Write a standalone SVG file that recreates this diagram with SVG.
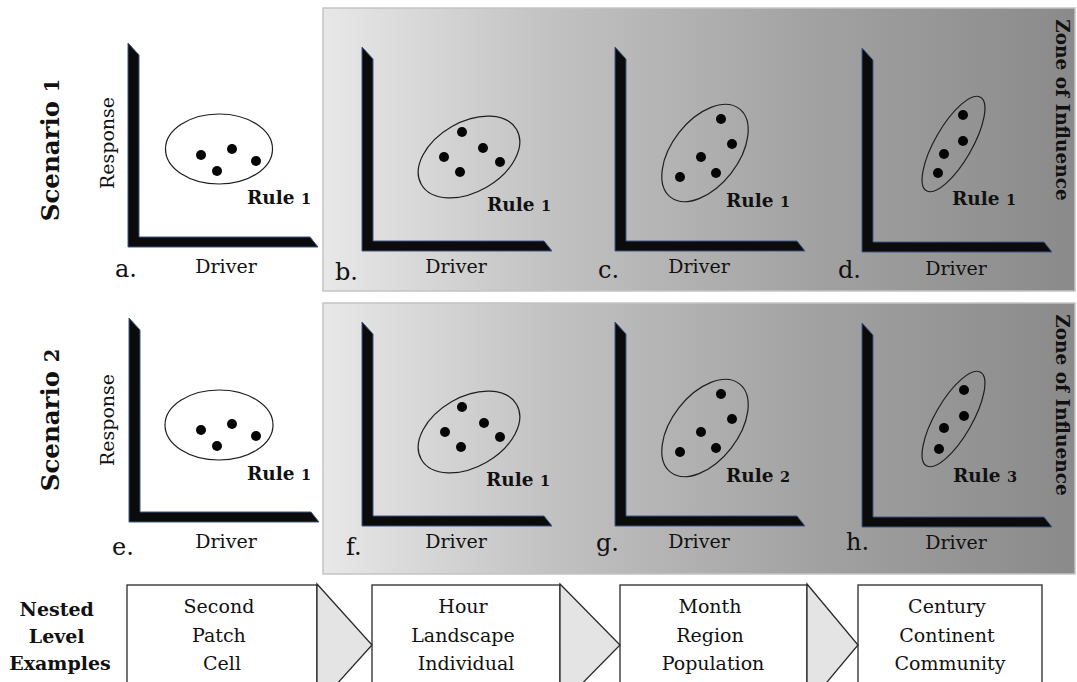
<svg xmlns="http://www.w3.org/2000/svg" xmlns:xlink="http://www.w3.org/1999/xlink" width="1077" height="682" viewBox="0 0 1077 682">
  <style>
    .serif { font-family: "DejaVu Serif", "Liberation Serif", serif; fill: #111; }
    .axis-label { font-size: 19px; }
    .panel-letter { font-size: 24px; }
    .rule { font-size: 18.5px; font-weight: bold; }
    .rule-num { font-size: 14.5px; }
    .scenario { font-size: 24.5px; font-weight: bold; }
    .zone { font-size: 18.5px; font-weight: bold; }
    .level { font-size: 19px; }
    .level-head { font-size: 19px; font-weight: bold; }
    .cloud { fill: none; stroke: #1e1e1e; stroke-width: 1.2; }
    .dot { fill: #050505; }
    .panel { stroke: #c4c4c4; stroke-width: 1.5; }
    .box { fill: #ffffff; stroke: #2a2a2a; stroke-width: 1.3; }
    .chevron { fill: #e4e4e4; stroke: #2a2a2a; stroke-width: 1.3; }
  </style>
  <defs>
    <linearGradient id="zoneShade" x1="0" y1="0" x2="1" y2="0">
      <stop offset="0" stop-color="#e8e8e8"/>
      <stop offset="0.3" stop-color="#c2c2c2"/>
      <stop offset="0.65" stop-color="#a2a2a2"/>
      <stop offset="1" stop-color="#8a8a8a"/>
    </linearGradient>
    <!-- L-shaped bevelled axes, origin at top-left of the vertical bar -->
    <polygon id="axes" points="0,0 11,12 11,194 182,194 190,204 0,204" fill="#0b0b0b" stroke="#3d5687" stroke-width="1"/>
  </defs>

  <rect width="1077" height="682" fill="#ffffff"/>

  <!-- shaded zone-of-influence backgrounds -->
  <rect id="zone-row1" class="panel" x="323" y="8" width="752" height="283" fill="url(#zoneShade)"/>
  <rect id="zone-row2" class="panel" x="323" y="303" width="752" height="271" fill="url(#zoneShade)"/>

  <!-- row labels -->
  <text id="scenario-1" class="serif scenario" transform="translate(59,150) rotate(-90)" text-anchor="middle">Scenario <tspan font-size="19.5">1</tspan></text>
  <text id="scenario-2" class="serif scenario" transform="translate(59,420) rotate(-90)" text-anchor="middle">Scenario <tspan font-size="19.5">2</tspan></text>
  <text id="zone-label-1" class="serif zone" transform="translate(1056,110) rotate(90)" text-anchor="middle">Zone of Influence</text>
  <text id="zone-label-2" class="serif zone" transform="translate(1056,405) rotate(90)" text-anchor="middle">Zone of Influence</text>

  <!-- Scenario 1 -->
  <g id="plot-a">
    <use xlink:href="#axes" x="128" y="43"/>
    <text class="serif axis-label" transform="translate(114,143) rotate(-90)" text-anchor="middle">Response</text>
    <ellipse class="cloud" cx="219" cy="149" rx="53.5" ry="35"/>
    <circle class="dot" cx="201" cy="155" r="5"/>
    <circle class="dot" cx="232" cy="149" r="5"/>
    <circle class="dot" cx="217" cy="171" r="5"/>
    <circle class="dot" cx="256" cy="161" r="5"/>
    <text class="serif rule" x="247" y="204">Rule <tspan class="rule-num">1</tspan></text>
    <text class="serif axis-label" x="226" y="273" text-anchor="middle">Driver</text>
    <text class="serif panel-letter" x="115" y="277">a.</text>
  </g>

  <g id="plot-b">
    <use xlink:href="#axes" x="362" y="47"/>
    <ellipse class="cloud" cx="469" cy="157" rx="55" ry="35" transform="rotate(-30 469 157)"/>
    <circle class="dot" cx="462" cy="132" r="5"/>
    <circle class="dot" cx="444" cy="157" r="5"/>
    <circle class="dot" cx="483" cy="148" r="5"/>
    <circle class="dot" cx="500" cy="162" r="5"/>
    <circle class="dot" cx="460" cy="172" r="5"/>
    <text class="serif rule" x="487" y="211">Rule <tspan class="rule-num">1</tspan></text>
    <text class="serif axis-label" x="456" y="273" text-anchor="middle">Driver</text>
    <text class="serif panel-letter" x="335" y="280">b.</text>
  </g>

  <g id="plot-c">
    <use xlink:href="#axes" x="615" y="47"/>
    <ellipse class="cloud" cx="705" cy="153" rx="56" ry="33" transform="rotate(-52 705 153)"/>
    <circle class="dot" cx="721" cy="119" r="5"/>
    <circle class="dot" cx="732" cy="144" r="5"/>
    <circle class="dot" cx="701" cy="157" r="5"/>
    <circle class="dot" cx="716" cy="173" r="5"/>
    <circle class="dot" cx="680" cy="177" r="5"/>
    <text class="serif rule" x="726" y="207">Rule <tspan class="rule-num">1</tspan></text>
    <text class="serif axis-label" x="699" y="273" text-anchor="middle">Driver</text>
    <text class="serif panel-letter" x="598" y="278">c.</text>
  </g>

  <g id="plot-d">
    <use xlink:href="#axes" x="862" y="48"/>
    <ellipse class="cloud" cx="953.5" cy="144" rx="54" ry="18.5" transform="rotate(-60 953.5 144)"/>
    <circle class="dot" cx="963" cy="115" r="5"/>
    <circle class="dot" cx="963" cy="141" r="5"/>
    <circle class="dot" cx="944" cy="154" r="5"/>
    <circle class="dot" cx="938" cy="173" r="5"/>
    <text class="serif rule" x="952" y="205">Rule <tspan class="rule-num">1</tspan></text>
    <text class="serif axis-label" x="956" y="275" text-anchor="middle">Driver</text>
    <text class="serif panel-letter" x="838" y="278">d.</text>
  </g>

  <!-- Scenario 2 -->
  <g id="plot-e">
    <use xlink:href="#axes" x="129" y="318"/>
    <text class="serif axis-label" transform="translate(114,420) rotate(-90)" text-anchor="middle">Response</text>
    <ellipse class="cloud" cx="219" cy="425" rx="54" ry="35"/>
    <circle class="dot" cx="201" cy="430" r="5"/>
    <circle class="dot" cx="232" cy="424" r="5"/>
    <circle class="dot" cx="217" cy="446" r="5"/>
    <circle class="dot" cx="256" cy="436" r="5"/>
    <text class="serif rule" x="247" y="480">Rule <tspan class="rule-num">1</tspan></text>
    <text class="serif axis-label" x="226" y="548" text-anchor="middle">Driver</text>
    <text class="serif panel-letter" x="112" y="555">e.</text>
  </g>

  <g id="plot-f">
    <use xlink:href="#axes" x="362" y="322"/>
    <ellipse class="cloud" cx="469" cy="432" rx="55" ry="35" transform="rotate(-30 469 432)"/>
    <circle class="dot" cx="462" cy="407" r="5"/>
    <circle class="dot" cx="445" cy="432" r="5"/>
    <circle class="dot" cx="484" cy="423" r="5"/>
    <circle class="dot" cx="500" cy="437" r="5"/>
    <circle class="dot" cx="461" cy="447" r="5"/>
    <text class="serif rule" x="486" y="486">Rule <tspan class="rule-num">1</tspan></text>
    <text class="serif axis-label" x="456" y="548" text-anchor="middle">Driver</text>
    <text class="serif panel-letter" x="346" y="555">f.</text>
  </g>

  <g id="plot-g">
    <use xlink:href="#axes" x="615" y="322"/>
    <ellipse class="cloud" cx="705" cy="428" rx="56" ry="33" transform="rotate(-52 705 428)"/>
    <circle class="dot" cx="721" cy="394" r="5"/>
    <circle class="dot" cx="732" cy="419" r="5"/>
    <circle class="dot" cx="701" cy="432" r="5"/>
    <circle class="dot" cx="716" cy="448" r="5"/>
    <circle class="dot" cx="680" cy="452" r="5"/>
    <text class="serif rule" x="726" y="482">Rule <tspan class="rule-num">2</tspan></text>
    <text class="serif axis-label" x="699" y="548" text-anchor="middle">Driver</text>
    <text class="serif panel-letter" x="596" y="551">g.</text>
  </g>

  <g id="plot-h">
    <use xlink:href="#axes" x="862" y="323"/>
    <ellipse class="cloud" cx="953.5" cy="419" rx="54" ry="18.5" transform="rotate(-60 953.5 419)"/>
    <circle class="dot" cx="964" cy="390" r="5"/>
    <circle class="dot" cx="964" cy="416" r="5"/>
    <circle class="dot" cx="944" cy="428" r="5"/>
    <circle class="dot" cx="939" cy="449" r="5"/>
    <text class="serif rule" x="953" y="482">Rule <tspan class="rule-num">3</tspan></text>
    <text class="serif axis-label" x="956" y="549" text-anchor="middle">Driver</text>
    <text class="serif panel-letter" x="846" y="550">h.</text>
  </g>

  <!-- nested level examples -->
  <text id="level-heading" class="serif level-head" text-anchor="middle">
    <tspan x="60" y="616">Nested</tspan>
    <tspan x="60" y="643">Level</tspan>
    <tspan x="60" y="670">Examples</tspan>
  </text>

  <g id="level-1">
    <rect class="box" x="127" y="585" width="190" height="110"/>
    <text class="serif level" text-anchor="middle">
      <tspan x="222" y="613">Second</tspan>
      <tspan x="222" y="642">Patch</tspan>
      <tspan x="222" y="670">Cell</tspan>
    </text>
  </g>
  <g id="level-2">
    <rect class="box" x="372" y="585" width="188" height="110"/>
    <text class="serif level" text-anchor="middle">
      <tspan x="466" y="613">Hour</tspan>
      <tspan x="466" y="642">Landscape</tspan>
      <tspan x="466" y="670">Individual</tspan>
    </text>
  </g>
  <g id="level-3">
    <rect class="box" x="620" y="585" width="187" height="110"/>
    <text class="serif level" text-anchor="middle">
      <tspan x="713" y="613">Month</tspan>
      <tspan x="713" y="642">Region</tspan>
      <tspan x="713" y="670">Population</tspan>
    </text>
  </g>
  <g id="level-4">
    <rect class="box" x="858" y="585" width="184" height="110"/>
    <text class="serif level" text-anchor="middle">
      <tspan x="950" y="613">Century</tspan>
      <tspan x="950" y="642">Continent</tspan>
      <tspan x="950" y="670">Community</tspan>
    </text>
  </g>

  <g id="connectors">
    <polygon class="chevron" points="317,584 372,645 317,706"/>
    <polygon class="chevron" points="560,584 620,645 560,706"/>
    <polygon class="chevron" points="807,584 858,645 807,706"/>
  </g>
</svg>
